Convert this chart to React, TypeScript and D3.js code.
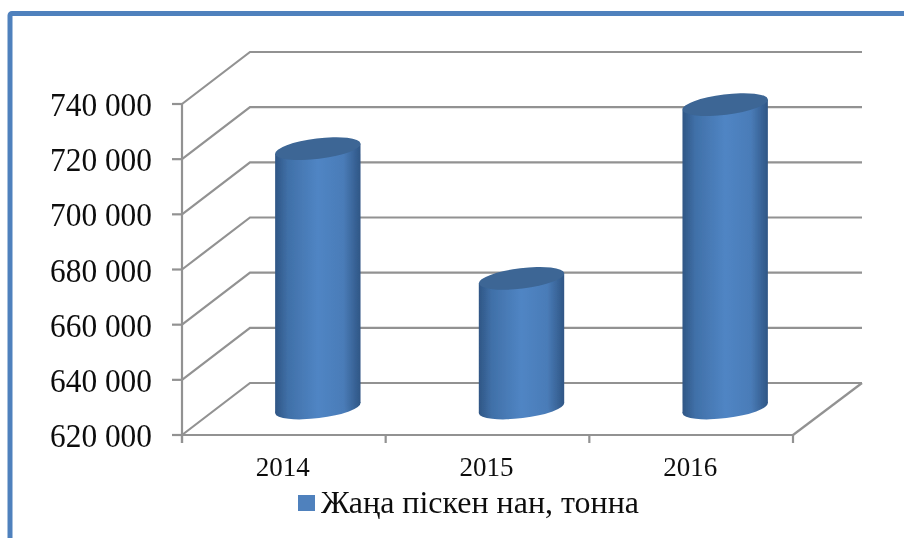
import React from "react";
import * as d3 from "d3";

const categories = ["2014", "2015", "2016"];
const values = [714000, 667000, 730000];
const yTicks = [620000, 640000, 660000, 680000, 700000, 720000, 740000];
const legendLabel = "Жаңа піскен нан, тонна";

const W = 904;
const H = 538;
const font = "'Liberation Serif', 'Times New Roman', serif";
const depthX = 68;
const depthY = -52;
const grid = "#929292";

const y = d3.scaleLinear().domain([620000, 740000]).range([435, 104]);
const x = d3.scaleBand().domain(categories).range([182, 793]);
const fmt = (v: number) => d3.format(",")(v).replace(/,/g, " ");

const rotDeg = 7;
const rot = (rotDeg * Math.PI) / 180;
const a = 43;
const b = 10.2;
const tw = Math.sqrt(a * a * Math.cos(rot) ** 2 + b * b * Math.sin(rot) ** 2);
const tOff = ((a * a - b * b) * Math.sin(rot) * Math.cos(rot)) / tw;

export default function App() {
  const line = d3.line();
  const baseY = y(620000) + depthY / 2 - 1;
  return (
    <svg width={W} height={H} style={{ position: "absolute", left: 0, top: 0, background: "#fff" }}>
      <defs>
        <linearGradient id="cyl" x1="0" x2="1" y1="0" y2="0">
          <stop offset="0" stopColor="#2f5685" />
          <stop offset="0.15" stopColor="#4070a8" />
          <stop offset="0.5" stopColor="#5085c4" />
          <stop offset="0.8" stopColor="#4a7cb8" />
          <stop offset="1" stopColor="#2f5685" />
        </linearGradient>
        <filter id="soft" x="-2%" y="-2%" width="104%" height="104%">
          <feGaussianBlur stdDeviation="0.6" />
        </filter>
      </defs>

      <path d={`M${W} 13.5H12a2 2 0 0 0-2 2V${H}`} fill="none" stroke="#4f81bd" strokeWidth={5} />

      <g filter="url(#soft)">
        {yTicks.map((t) => (
          <g key={t}>
            <path
              d={line([
                [182, y(t)],
                [182 + depthX, y(t) + depthY],
                [793 + depthX + 1, y(t) + depthY],
              ]) as string}
              fill="none"
              stroke={grid}
              strokeWidth={2.2}
            />
            <line x1={172} x2={182} y1={y(t)} y2={y(t)} stroke={grid} strokeWidth={2.2} />
          </g>
        ))}
        <line x1={182} x2={182} y1={y(740000)} y2={443} stroke={grid} strokeWidth={2.2} />
        <line x1={172} x2={793} y1={435} y2={435} stroke={grid} strokeWidth={2.2} />
        <line x1={793} x2={793 + depthX + 1} y1={435} y2={435 + depthY} stroke={grid} strokeWidth={2.2} />
        {[...categories.map((c) => x(c) as number), 793].map((p) => (
          <line key={p} x1={p} x2={p} y1={435} y2={443} stroke={grid} strokeWidth={2.2} />
        ))}

        {categories.map((c, i) => {
          const cx = (x(c) as number) + x.bandwidth() / 2 + depthX / 2;
          const topY = y(values[i]) + depthY / 2 - 1;
          const xl = cx - tw;
          const xr = cx + tw;
          return (
            <g key={c}>
              <ellipse cx={cx} cy={baseY} rx={a} ry={b} fill="url(#cyl)" transform={`rotate(${-rotDeg} ${cx} ${baseY})`} />
              <polygon
                points={`${xl},${topY + tOff} ${xr},${topY - tOff} ${xr},${baseY - tOff} ${xl},${baseY + tOff}`}
                fill="url(#cyl)"
              />
              <ellipse cx={cx} cy={topY} rx={a} ry={b} fill="#3c6695" transform={`rotate(${-rotDeg} ${cx} ${topY})`} />
            </g>
          );
        })}

        {yTicks.map((t) => (
          <text
            key={t}
            x={152}
            y={y(t) + 12}
            textAnchor="end"
            fontFamily={font}
            fontSize={33}
            fill="#111"
            textLength={102}
            lengthAdjust="spacingAndGlyphs"
          >
            {fmt(t)}
          </text>
        ))}
        {categories.map((c) => (
          <text
            key={c}
            x={(x(c) as number) + x.bandwidth() / 2 - 1}
            y={476}
            textAnchor="middle"
            fontFamily={font}
            fontSize={27}
            fill="#111"
          >
            {c}
          </text>
        ))}
        <rect x={298} y={495} width={17} height={16} fill="#4f81bd" />
        <text
          x={321}
          y={513}
          fontFamily={font}
          fontSize={31}
          fill="#111"
          textLength={318}
          lengthAdjust="spacingAndGlyphs"
        >
          {legendLabel}
        </text>
      </g>
    </svg>
  );
}
